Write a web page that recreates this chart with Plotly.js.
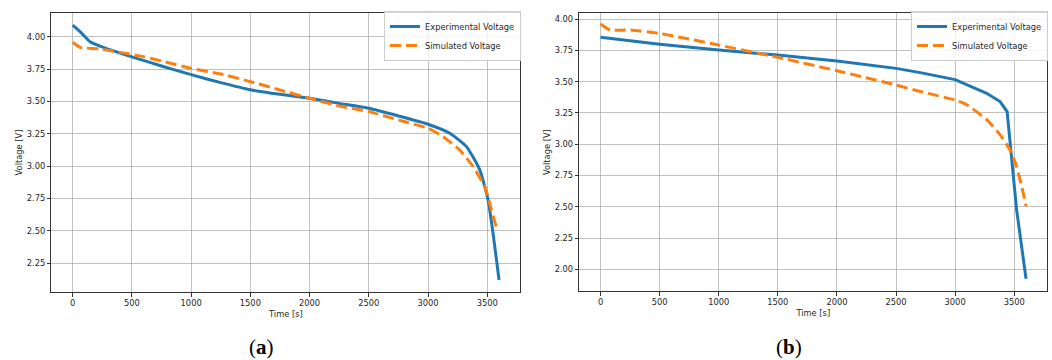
<!DOCTYPE html>
<html>
<head>
<meta charset="utf-8">
<script src="https://cdn.plot.ly/plotly-3.0.1.min.js"></script>
<style>html,body{margin:0;padding:0;background:#fff}#chart{width:1052px;height:360px}</style>
</head>
<body>
<div id="chart"></div>
<script>
// ---- Data (a) ----
const timeExpA = [0, 62, 146, 258, 540, 750, 1000, 1250, 1500, 1750, 2000, 2250, 2500, 2750, 3000, 3184, 3325, 3437, 3507, 3549, 3600];
const voltExpA = [4.090, 4.039, 3.961, 3.918, 3.833, 3.774, 3.707, 3.645, 3.590, 3.555, 3.524, 3.485, 3.447, 3.388, 3.324, 3.254, 3.151, 2.971, 2.739, 2.482, 2.121];
const timeSimA = [0, 62, 230, 596, 750, 1000, 1250, 1500, 1750, 2000, 2250, 2500, 2750, 3000, 3128, 3268, 3381, 3479, 3536, 3578, 3600];
const voltSimA = [3.957, 3.918, 3.905, 3.846, 3.812, 3.755, 3.712, 3.653, 3.588, 3.524, 3.465, 3.421, 3.357, 3.293, 3.228, 3.125, 2.996, 2.842, 2.662, 2.533, 2.520];
// ---- Data (b) ----
const timeExpB = [0, 500, 1000, 1500, 2000, 2500, 2705, 3000, 3267, 3380, 3440, 3470, 3520, 3600];
const voltExpB = [3.854, 3.798, 3.752, 3.712, 3.664, 3.606, 3.572, 3.516, 3.407, 3.341, 3.261, 2.950, 2.478, 1.925];
const timeSimB = [0, 80, 250, 500, 1000, 1500, 2000, 2500, 2705, 3000, 3099, 3267, 3380, 3464, 3520, 3576, 3600];
const voltSimB = [3.960, 3.912, 3.912, 3.885, 3.792, 3.694, 3.587, 3.473, 3.421, 3.353, 3.315, 3.196, 3.076, 2.956, 2.823, 2.611, 2.504];
const xTicks = [0, 500, 1000, 1500, 2000, 2500, 3000, 3500];
const seriesNames = ['Experimental Voltage', 'Simulated Voltage'];
const panelLabels = ['(<b>a</b>)', '(<b>b</b>)'];

const blue = '#1f77b4', orange = '#ff7f0e';
const font = {family: 'DejaVu Sans, sans-serif', size: 8.3, color: '#262626'};

const traces = [
  {x: timeExpA, y: voltExpA, xaxis: 'x', yaxis: 'y', name: seriesNames[0], mode: 'lines', line: {color: blue, width: 3, shape: 'spline', smoothing: 0.5}, legend: 'legend'},
  {x: timeSimA, y: voltSimA, xaxis: 'x', yaxis: 'y', name: seriesNames[1], mode: 'lines', line: {color: orange, width: 3, dash: '11px,5px', shape: 'spline', smoothing: 0.5}, legend: 'legend'},
  {x: timeExpB, y: voltExpB, xaxis: 'x2', yaxis: 'y2', name: seriesNames[0], mode: 'lines', line: {color: blue, width: 3}, legend: 'legend2'},
  {x: timeSimB, y: voltSimB, xaxis: 'x2', yaxis: 'y2', name: seriesNames[1], mode: 'lines', line: {color: orange, width: 3, dash: '11px,5px', shape: 'spline', smoothing: 0.5}, legend: 'legend2'}
];

function xax(domain, anchor) {
  return {domain: domain, anchor: anchor, range: [-180, 3780], tickvals: xTicks, showgrid: true, gridcolor: '#b0b0b0', gridwidth: 0.8,
    zeroline: false, showline: true, mirror: true, linecolor: '#333', linewidth: 1, ticks: 'outside', ticklen: 3.5, tickcolor: '#333',
    tickfont: font, title: {text: 'Time [s]', font: font, standoff: 3}};
}
function yax(domain, anchor, range) {
  return {domain: domain, anchor: anchor, range: range, dtick: 0.25, tick0: 0, tickformat: '.2f', showgrid: true, gridcolor: '#b0b0b0', gridwidth: 0.8,
    zeroline: false, showline: true, mirror: true, linecolor: '#333', linewidth: 1, ticks: 'outside', ticklen: 3.5, tickcolor: '#333',
    tickfont: font, title: {text: 'Voltage [V]', font: font, standoff: 2}};
}
function leg(x, y) {
  return {x: x, y: y, xanchor: 'left', yanchor: 'top', bgcolor: 'rgba(255,255,255,0.8)', bordercolor: '#cccccc', borderwidth: 1,
    font: font, itemwidth: 30, tracegroupgap: 0};
}

const layout = {
  width: 1052, height: 360, margin: {l: 0, r: 0, t: 0, b: 0}, paper_bgcolor: '#fff', plot_bgcolor: '#fff',
  font: font, showlegend: true,
  xaxis: xax([51.4/1052, 520.4/1052], 'y'),
  yaxis: yax([1 - 292/360, 1 - 13/360], 'x', [2.028, 4.183]),
  xaxis2: xax([579.3/1052, 1047.3/1052], 'y2'),
  yaxis2: yax([1 - 291/360, 1 - 13.3/360], 'x2', [1.827, 4.046]),
  legend: leg(384/1052, 1 - 11/360),
  legend2: leg(911/1052, 1 - 11/360),
  annotations: [
    {text: panelLabels[0], xref: 'paper', yref: 'paper', x: 261/1052, y: 0, xanchor: 'center', yanchor: 'bottom', showarrow: false, borderpad: 0,
     font: {family: 'Liberation Serif, DejaVu Serif, serif', size: 21, color: '#000'}},
    {text: panelLabels[1], xref: 'paper', yref: 'paper', x: 789/1052, y: 0, xanchor: 'center', yanchor: 'bottom', showarrow: false, borderpad: 0,
     font: {family: 'Liberation Serif, DejaVu Serif, serif', size: 21, color: '#000'}}
  ]
};

Plotly.newPlot('chart', traces, layout, {staticPlot: true, displayModeBar: false});
</script>
</body>
</html>
